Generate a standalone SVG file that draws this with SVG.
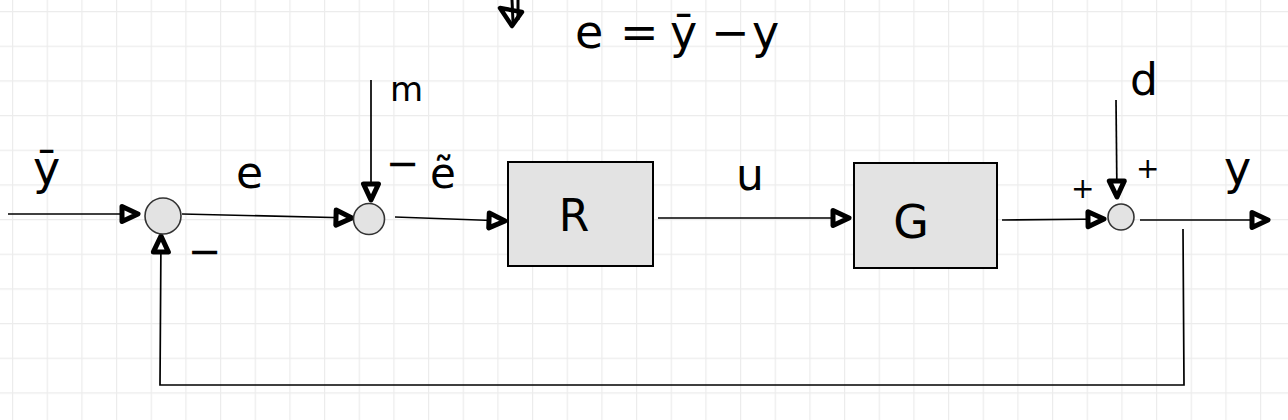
<svg xmlns="http://www.w3.org/2000/svg" width="1288" height="420" viewBox="0 0 1288 420">
<style>
.lbl{font-family:"DejaVu Sans","Liberation Sans",sans-serif;fill:#000;}
.wire{fill:none;stroke:#000;stroke-width:1.7;}
.sum{fill:#e3e3e3;stroke:#333;stroke-width:1.6;}
.blk{fill:#e3e3e3;stroke:#000;stroke-width:2;}
</style>
<defs>
<pattern id="grid" patternUnits="userSpaceOnUse" x="12" y="11" width="34.667" height="34.667">
<path d="M0,0 L34.667,0 M0,0 L0,34.667" fill="none" stroke="#ececec" stroke-width="2.4"/>
</pattern>
<marker id="ah" markerUnits="userSpaceOnUse" viewBox="0 0 24 22" refX="21" refY="11" markerWidth="24" markerHeight="22" orient="auto">
<path d="M4,3.5 L20,11 L4,18.5 Z" fill="#fff" stroke="#000" stroke-width="5" stroke-linejoin="round"/>
</marker>
</defs>
<rect width="1288" height="420" fill="#fff"/>
<rect width="1288" height="420" fill="url(#grid)"/>

<g id="connectors">
<path class="wire" d="M8,214 L139,214" marker-end="url(#ah)"/>
<path class="wire" d="M182,214 L353,218" marker-end="url(#ah)"/>
<path class="wire" d="M371,80 L371,201" marker-end="url(#ah)"/>
<path class="wire" d="M395,217 L506,221" marker-end="url(#ah)"/>
<path class="wire" d="M658,218 L850,218" marker-end="url(#ah)"/>
<path class="wire" d="M1002,220 L1105,219" marker-end="url(#ah)"/>
<path class="wire" d="M1116,100 L1117,198" marker-end="url(#ah)"/>
<path class="wire" d="M1140,220 L1269,220" marker-end="url(#ah)"/>
<path class="wire" d="M1183,229 L1184,385 L160,385 L161,235" marker-end="url(#ah)"/>
</g>

<g id="stray">
<path d="M500,8 L522,12 L512,26 Z" fill="#fff" stroke="#000" stroke-width="4.5" stroke-linejoin="round"/>
<path d="M512,0 L513,22 M518,0 L518,20" stroke="#000" stroke-width="3"/>
</g>

<g id="sum1"><circle class="sum" cx="163" cy="216" r="18"/></g>
<g id="sum2"><circle class="sum" cx="369" cy="219" r="15.5"/></g>
<g id="sum3"><circle class="sum" cx="1121" cy="217" r="13"/></g>

<g id="blockR">
<rect class="blk" x="508" y="162" width="145" height="104"/>
<text class="lbl" x="574" y="231" font-size="44" text-anchor="middle">R</text>
</g>
<g id="blockG">
<rect class="blk" x="854" y="163" width="143" height="105"/>
<text class="lbl" x="911" y="238" font-size="46" text-anchor="middle">G</text>
</g>

<g id="labels">
<text class="lbl" x="33" y="184" font-size="46">ȳ</text>
<text class="lbl" x="236" y="188" font-size="44">e</text>
<text class="lbl" x="390" y="101" font-size="34">m</text>
<text class="lbl" x="386" y="177" font-size="40">−</text>
<text class="lbl" x="430" y="188" font-size="42">ẽ</text>
<text class="lbl" x="188" y="265" font-size="40">−</text>
<text class="lbl" x="736" y="190" font-size="44">u</text>
<text class="lbl" x="1130" y="95" font-size="44">d</text>
<text class="lbl" x="1136" y="178" font-size="28">+</text>
<text class="lbl" x="1071" y="198" font-size="28">+</text>
<text class="lbl" x="1224" y="184" font-size="46">y</text>
</g>

<g id="equation">
<text class="lbl" font-size="46" y="48"><tspan x="575">e</tspan><tspan x="620">=</tspan><tspan x="670">ȳ</tspan><tspan x="711">−</tspan><tspan x="752">y</tspan></text>
</g>
</svg>
